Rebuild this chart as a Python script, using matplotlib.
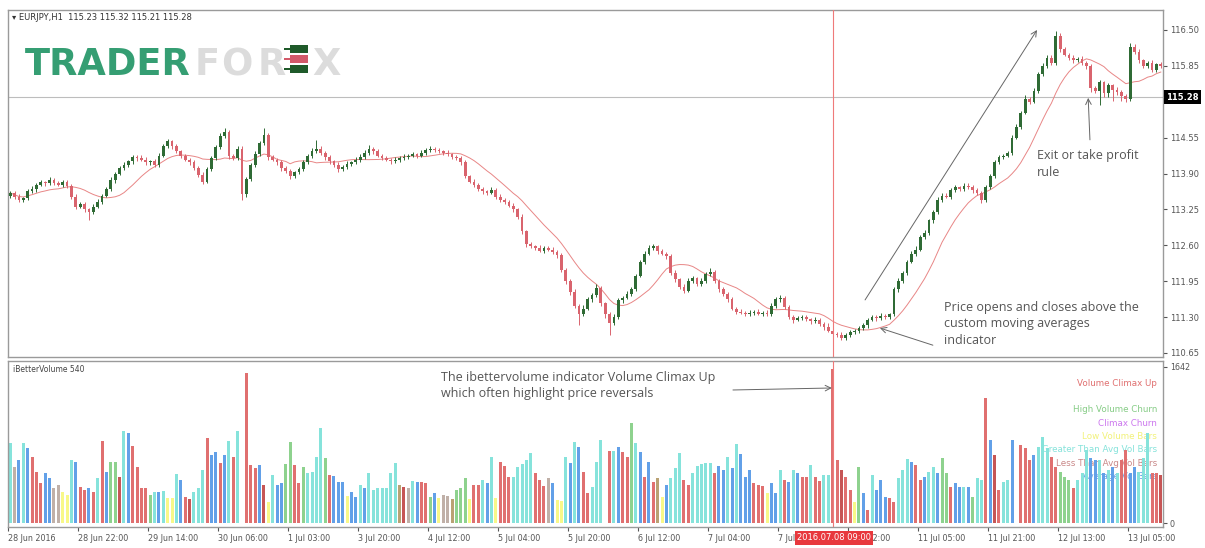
import numpy as np
import pandas as pd
import matplotlib
matplotlib.use('Agg')
import matplotlib.pyplot as plt
from matplotlib.patches import Rectangle

W, H = 1205, 548

# EURJPY H1 closes (one per bar), first open, wick sizes in pips
first_open = 113.50
closes = [
    113.55, 113.48, 113.42, 113.45, 113.58, 113.62, 113.70, 113.74, 113.72, 113.78, 113.73, 113.70, 113.75, 113.68, 113.48, 113.30,
    113.35, 113.25, 113.20, 113.30, 113.38, 113.50, 113.62, 113.78, 113.90, 114.00, 114.05, 114.12, 114.20, 114.18, 114.15, 114.10,
    114.12, 114.05, 114.22, 114.40, 114.48, 114.40, 114.30, 114.22, 114.15, 114.10, 114.00, 113.88, 113.75, 113.98, 114.18, 114.38,
    114.58, 114.65, 114.22, 114.18, 114.35, 113.52, 113.80, 114.05, 114.25, 114.45, 114.60, 114.20, 114.15, 114.10, 114.00, 113.95,
    113.85, 113.92, 113.98, 114.10, 114.22, 114.30, 114.35, 114.28, 114.20, 114.12, 114.05, 113.98, 114.02, 114.08, 114.10, 114.15,
    114.20, 114.28, 114.35, 114.30, 114.22, 114.18, 114.15, 114.12, 114.15, 114.18, 114.20, 114.22, 114.25, 114.22, 114.28, 114.32,
    114.35, 114.33, 114.30, 114.28, 114.25, 114.20, 114.18, 114.10, 113.85, 113.75, 113.70, 113.62, 113.58, 113.55, 113.60, 113.48,
    113.42, 113.38, 113.32, 113.25, 113.12, 112.85, 112.62, 112.58, 112.55, 112.50, 112.55, 112.52, 112.48, 112.42, 112.15, 111.95,
    111.75, 111.50, 111.35, 111.45, 111.62, 111.70, 111.82, 111.55, 111.35, 111.20, 111.30, 111.60, 111.65, 111.72, 111.80, 112.05,
    112.30, 112.45, 112.55, 112.58, 112.50, 112.45, 112.40, 112.10, 111.98, 111.85, 111.78, 111.95, 112.00, 111.90, 111.95, 112.08,
    112.12, 111.95, 111.80, 111.72, 111.62, 111.45, 111.40, 111.38, 111.35, 111.38, 111.40, 111.36, 111.38, 111.35, 111.50, 111.62,
    111.65, 111.48, 111.30, 111.25, 111.28, 111.30, 111.26, 111.22, 111.25, 111.18, 111.12, 111.05, 111.00, 110.98, 110.92, 110.98,
    111.02, 111.05, 111.10, 111.15, 111.25, 111.30, 111.28, 111.32, 111.30, 111.35, 111.80, 111.95, 112.10, 112.30, 112.45, 112.52,
    112.75, 112.82, 113.05, 113.20, 113.42, 113.50, 113.48, 113.60, 113.65, 113.62, 113.68, 113.66, 113.60, 113.55, 113.42, 113.65,
    113.85, 114.10, 114.20, 114.22, 114.28, 114.55, 114.75, 115.00, 115.25, 115.20, 115.40, 115.70, 115.85, 116.00, 115.90, 116.40,
    116.15, 116.05, 116.00, 115.95, 115.98, 115.90, 115.85, 115.45, 115.40, 115.55, 115.35, 115.50, 115.42, 115.38, 115.30, 115.25,
    116.20, 116.10, 115.95, 115.85, 115.90, 115.78, 115.88, 115.85,
]
up_wick = [
    4, 3, 5, 3, 4, 6, 3, 4, 3, 5, 3, 4, 3, 4, 3, 5,
    4, 3, 3, 4, 5, 3, 4, 5, 3, 4, 6, 3, 4, 3, 5, 4,
    3, 4, 5, 4, 5, 3, 4, 3, 4, 3, 4, 3, 5, 4, 3, 4,
    5, 7, 4, 3, 4, 5, 3, 4, 5, 4, 12, 3, 4, 3, 4, 3,
    4, 3, 4, 5, 4, 6, 16, 4, 3, 4, 3, 5, 3, 4, 3, 4,
    5, 4, 6, 3, 4, 3, 4, 3, 4, 3, 5, 3, 4, 3, 5, 4,
    4, 3, 4, 3, 4, 3, 4, 3, 4, 3, 5, 3, 4, 3, 6, 3,
    4, 3, 4, 5, 3, 4, 3, 4, 3, 5, 4, 3, 4, 3, 4, 3,
    4, 5, 3, 6, 5, 4, 8, 4, 3, 4, 5, 4, 3, 5, 4, 3,
    4, 5, 5, 4, 3, 4, 3, 4, 5, 3, 4, 5, 4, 3, 5, 4,
    7, 4, 3, 4, 3, 5, 3, 4, 3, 4, 3, 4, 3, 4, 5, 4,
    5, 3, 4, 3, 4, 3, 4, 3, 5, 4, 3, 8, 4, 3, 4, 3,
    4, 3, 4, 5, 3, 4, 3, 5, 4, 3, 4, 5, 4, 3, 4, 6,
    4, 5, 3, 4, 6, 4, 5, 3, 4, 3, 5, 4, 3, 4, 3, 4,
    4, 5, 3, 4, 3, 5, 4, 3, 8, 4, 5, 4, 6, 4, 5, 8,
    4, 5, 3, 4, 3, 5, 4, 3, 4, 5, 3, 4, 3, 4, 3, 4,
    6, 4, 5, 3, 4, 5, 3, 4,
]
dn_wick = [
    4, 5, 3, 4, 3, 4, 5, 3, 4, 3, 4, 3, 5, 4, 4, 5,
    3, 5, 15, 4, 3, 4, 3, 4, 5, 3, 4, 3, 4, 5, 3, 4,
    4, 3, 4, 3, 4, 5, 3, 4, 3, 4, 3, 5, 4, 3, 4, 3,
    4, 3, 5, 4, 3, 10, 4, 3, 4, 3, 4, 5, 3, 4, 6, 4,
    5, 4, 3, 4, 3, 4, 3, 4, 5, 4, 3, 6, 4, 3, 4, 3,
    4, 3, 4, 5, 3, 4, 3, 4, 3, 4, 3, 4, 3, 4, 3, 4,
    3, 4, 3, 4, 3, 4, 3, 5, 4, 3, 4, 3, 5, 4, 3, 4,
    3, 4, 3, 4, 5, 4, 5, 3, 4, 3, 4, 3, 4, 5, 4, 5,
    5, 4, 19, 4, 3, 4, 3, 5, 6, 23, 4, 3, 4, 3, 4, 3,
    3, 4, 3, 4, 5, 3, 4, 3, 4, 5, 4, 3, 4, 3, 4, 3,
    3, 4, 5, 3, 4, 3, 4, 3, 4, 3, 4, 3, 4, 3, 4, 3,
    4, 3, 4, 5, 3, 4, 3, 4, 3, 4, 5, 3, 4, 5, 4, 3,
    4, 3, 4, 3, 4, 3, 5, 4, 3, 4, 3, 4, 3, 4, 3, 4,
    3, 4, 3, 4, 3, 4, 3, 4, 3, 4, 3, 4, 5, 4, 6, 3,
    3, 4, 3, 4, 3, 4, 3, 4, 3, 4, 3, 4, 3, 4, 3, 4,
    4, 3, 5, 4, 3, 4, 6, 8, 5, 25, 6, 7, 20, 5, 8, 6,
    4, 3, 5, 4, 3, 5, 4, 3,
]

# iBetterVolume values and colour class per bar
volumes = [
    842, 590, 663, 842, 790, 695, 537, 421, 526, 474, 368, 400, 326, 295, 663, 642,
    379, 347, 368, 326, 474, 863, 537, 642, 642, 484, 968, 947, 810, 590, 368, 368,
    295, 326, 326, 337, 263, 263, 516, 453, 274, 253, 326, 368, 558, 895, 716, 748,
    632, 716, 863, 695, 968, 900, 1580, 611, 579, 611, 400, 221, 505, 400, 421, 621,
    853, 611, 421, 590, 526, 537, 695, 1000, 684, 505, 495, 432, 432, 280, 326, 274,
    400, 368, 526, 347, 368, 368, 368, 526, 632, 400, 379, 368, 442, 432, 432, 421,
    274, 316, 260, 295, 284, 253, 347, 368, 474, 250, 400, 400, 453, 421, 695, 260,
    642, 600, 484, 484, 590, 621, 663, 737, 526, 453, 390, 474, 421, 242, 230, 695,
    632, 853, 800, 537, 316, 379, 642, 874, 700, 758, 758, 800, 748, 695, 1053, 842,
    748, 484, 642, 432, 474, 274, 400, 474, 579, 737, 453, 400, 526, 600, 621, 632,
    632, 526, 600, 558, 695, 579, 832, 727, 484, 558, 421, 400, 390, 316, 421, 316,
    558, 453, 432, 558, 526, 484, 484, 611, 484, 442, 505, 505, 1620, 663, 558, 484,
    347, 221, 590, 316, 137, 505, 347, 453, 274, 263, 221, 474, 558, 674, 642, 611,
    453, 484, 537, 590, 526, 684, 526, 379, 421, 379, 379, 379, 274, 474, 453, 1316,
    874, 716, 347, 432, 453, 874, 700, 821, 790, 663, 716, 800, 905, 790, 695, 590,
    537, 484, 453, 368, 453, 526, 769, 684, 663, 663, 526, 558, 590, 526, 663, 769,
    526, 590, 537, 684, 947, 526, 526, 500,
]
vol_kind = ("ckbcbrrrbbkkyycb" "rrbrcrbggdcbrrrr" "gcbcyycbrdcccrbb" "rbcrcwrrrbdycbbg"
            "grrgccccgrbbbybb" "cbcccccccodkcbrr" "gbykkogggyrrcbcy" "rrrcccccrrrkbyyc"
            "bcbrrcccwrcbrrgc" "brbroybcccrrcccc" "crbbcbcbbbrrrybb" "crbcbrrcrrccrrdr"
            "rygbrcbbbrrcccbr" "rbccbggrbbcbgccr" "bdrccbwrrrbcccrr" "gggrcccbbcbcbcrr"
            "bbcccrrd")

x_labels = ["28 Jun 2016", "28 Jun 22:00", "29 Jun 14:00", "30 Jun 06:00", "1 Jul 03:00",
            "3 Jul 20:00", "4 Jul 12:00", "5 Jul 04:00", "5 Jul 20:00", "6 Jul 12:00",
            "7 Jul 04:00", "7 Jul 20:00", "8 Jul 12:00", "11 Jul 05:00", "11 Jul 21:00",
            "12 Jul 13:00", "13 Jul 05:00"]
price_ticks = [116.50, 115.85, 114.55, 113.90, 113.25, 112.60, 111.95, 111.30, 110.65]

legend_lines = [("Volume Climax Up", "#e07070"), ("Volume Climax Down", "white"),
                ("High Volume Churn", "#86cc86"), ("Climax Churn", "#cc77ee"),
                ("Low Volume Bars", "#f2f27a"), ("Greater Than Avg Vol Bars", "#86e3db"),
                ("Less Than Avg Vol Bars", "#c98888"), ("Average Vol Bars", "#6aa0e6")]

kind_colors = {'r': '#e07070', 'd': '#c65656', 'c': '#86e3db', 'b': '#62a0e8',
               'g': '#8ed28e', 'y': '#f8f888', 'k': '#c0b0a8', 'o': '#b9a274',
               'w': 'white'}

n = len(closes)
x = np.arange(n)
c = np.array(closes)
o = np.array([first_open] + closes[:-1])
hi = np.maximum(o, c) + np.array(up_wick) / 100.0
lo = np.minimum(o, c) - np.array(dn_wick) / 100.0
ma = pd.Series(closes).rolling(12, min_periods=1).mean()

cross_bar = 188
cross_price = 115.28
cross_col = '#ef7a7a'

fig = plt.figure(figsize=(W / 100, H / 100), dpi=100)
ax1 = fig.add_axes([8 / W, 1 - 357 / H, 1155 / W, 347 / H])
ax2 = fig.add_axes([8 / W, 1 - 527 / H, 1155 / W, 166 / H])

# price panel
bull = c >= o
body_col = np.where(bull, '#2f6b35', '#d9646e')
ax1.vlines(x, lo, hi, colors=body_col, linewidth=0.7, zorder=2)
ax1.bar(x, np.maximum(np.abs(c - o), 0.012), bottom=np.minimum(o, c), width=0.64,
        color=body_col, linewidth=0, zorder=3)
ax1.plot(x, ma, color='#e88686', linewidth=0.7, zorder=1)
ax1.axhline(cross_price, color='#bdbdbd', linewidth=0.8, zorder=0)
ax1.axvline(cross_bar, color=cross_col, linewidth=0.8, zorder=4)

ax1.set_xlim(-0.5, n - 0.5)
ax1.set_ylim(110.576, 116.862)
ax1.set_xticks([])
ax1.yaxis.tick_right()
ax1.set_yticks(price_ticks)
ax1.set_yticklabels(["%.2f" % v for v in price_ticks])
ax1.tick_params(axis='y', labelsize=6, colors='#555', length=3, pad=2)

# volume panel
ax2.bar(x, volumes, width=0.66, color=[kind_colors[k] for k in vol_kind],
        linewidth=0, zorder=2)
ax2.axvline(cross_bar, color=cross_col, linewidth=0.8, zorder=4)
ax2.set_xlim(-0.5, n - 0.5)
ax2.set_ylim(-42, 1705)
ax2.yaxis.tick_right()
ax2.set_yticks([0, 1642])
ax2.set_yticklabels(["0", "1642"])
ax2.set_xticks([16 * k - 0.5 for k in range(len(x_labels))])
ax2.set_xticklabels(x_labels, ha='left')
ax2.tick_params(axis='both', labelsize=5.8, colors='#555', length=3, pad=2)

for i, (txt, col) in enumerate(legend_lines):
    ax2.text(0.9948, (527 - (383 + 13.4 * i)) / 166, txt, transform=ax2.transAxes,
             ha='right', va='center', fontsize=6.3, color=col, zorder=1)

for ax in (ax1, ax2):
    for s in ax.spines.values():
        s.set_color('#9a9a9a')
        s.set_linewidth(1.0)

# annotations
ann_font = dict(family='Open Sans', fontsize=9, color='#555555', linespacing=1.35)
arrow = dict(arrowstyle='->', color='#666666', lw=0.7, shrinkA=0, shrinkB=0)
ax1.annotate('', xy=(234.7, 116.50), xytext=(195.4, 111.61), arrowprops=arrow)
ax1.annotate('', xy=(246.4, 115.27), xytext=(246.8, 114.51), arrowprops=arrow)
ax1.annotate('', xy=(198.8, 111.10), xytext=(210.9, 110.79), arrowprops=arrow)
ax2.annotate('', xy=(187.8, 1421), xytext=(165.2, 1400), arrowprops=arrow)

fig.text(1037 / W, 1 - 149 / H, "Exit or take profit\nrule", va='top', **ann_font)
fig.text(944 / W, 1 - 301 / H, "Price opens and closes above the\ncustom moving averages\nindicator",
         va='top', **ann_font)
fig.text(441 / W, 1 - 371 / H, "The ibettervolume indicator Volume Climax Up\nwhich often highlight price reversals",
         va='top', **ann_font)

fig.text(12 / W, 1 - 17 / H, "\u25be EURJPY,H1  115.23 115.32 115.21 115.28",
         fontsize=6, color='#333333', va='center')
fig.text(13 / W, 1 - 369 / H, "iBetterVolume 540", fontsize=5.5, color='#444444', va='center')

# crosshair labels sit on top of the axis labels, as in the terminal
fig.text(834 / W, 1 - 538 / H, "2016.07.08 09:00", ha='center', va='center', color='white',
         fontsize=6, bbox=dict(boxstyle='square,pad=0.25', fc='#e8383d', ec='none'))
fig.text(1166 / W, 1 - 97 / H, "115.28", ha='left', va='center', color='white', fontsize=6,
         fontweight='bold', bbox=dict(boxstyle='square,pad=0.3', fc='black', ec='none'))

# logo
fig.text(25 / W, 1 - 75 / H, "TRADER", fontsize=26.5, fontweight='bold', color='#359e73',
         va='baseline')
for ch, px in (("F", 195), ("O", 221), ("R", 258), ("X", 312)):
    fig.text(px / W, 1 - 75 / H, ch, fontsize=26.5, fontweight='bold', color='#dcdcdc',
             va='baseline')
for top, col in ((45, '#1f5a2a'), (55, '#d25a6a'), (65, '#1f5a2a')):
    fig.add_artist(Rectangle((290 / W, 1 - (top + 8) / H), 18 / W, 8 / H,
                             transform=fig.transFigure, fc=col, ec='none'))
    fig.add_artist(Rectangle((284 / W, 1 - (top + 4.6) / H), 6 / W, 1.2 / H,
                             transform=fig.transFigure, fc=col, ec='none'))

fig.savefig('out.png', dpi=100)
